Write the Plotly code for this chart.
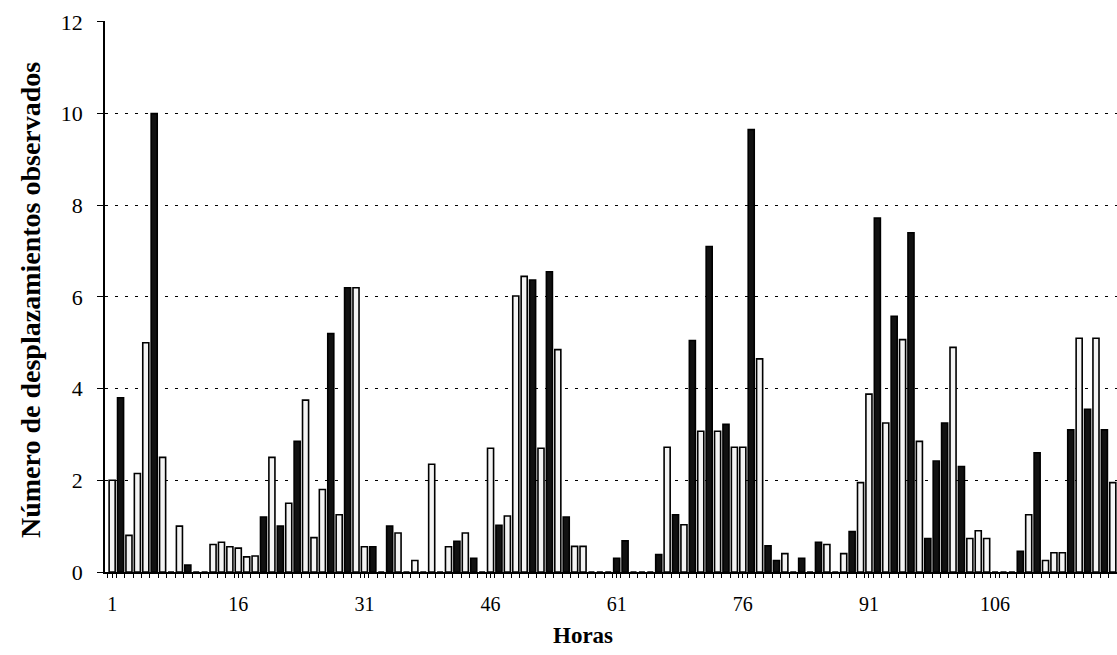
import plotly.graph_objects as go

hours = list(range(1, 121))
values = [
    2.0, 3.8, 0.8, 2.15, 5.0, 10.0, 2.5, 0, 1.0, 0.15,
    0, 0, 0.6, 0.65, 0.55, 0.52, 0.33, 0.35, 1.2, 2.5,
    1.0, 1.5, 2.85, 3.75, 0.75, 1.8, 5.2, 1.25, 6.2, 6.2,
    0.55, 0.55, 0, 1.0, 0.85, 0, 0.25, 0, 2.35, 0,
    0.55, 0.67, 0.85, 0.3, 0, 2.7, 1.02, 1.22, 6.02, 6.45,
    6.37, 2.7, 6.55, 4.85, 1.2, 0.56, 0.56, 0, 0, 0,
    0.3, 0.68, 0, 0, 0, 0.38, 2.72, 1.25, 1.03, 5.05,
    3.07, 7.1, 3.07, 3.22, 2.72, 2.72, 9.65, 4.65, 0.57, 0.25,
    0.4, 0, 0.3, 0, 0.65, 0.6, 0, 0.4, 0.88, 1.95,
    3.88, 7.72, 3.25, 5.58, 5.07, 7.4, 2.85, 0.73, 2.42, 3.25,
    4.9, 2.3, 0.73, 0.9, 0.73, 0, 0, 0, 0.45, 1.25,
    2.6, 0.25, 0.42, 0.42, 3.1, 5.1, 3.55, 5.1, 3.1, 1.95,
]
x_tick_vals = [1, 16, 31, 46, 61, 76, 91, 106]
x_tick_text = ["1", "16", "31", "46", "61", "76", "91", "106"]
y_tick_vals = [0, 2, 4, 6, 8, 10, 12]

# style only: hours whose bar appears dark in the scanned original
dark_hours = [2, 6, 10, 19, 21, 23, 27, 29, 32, 34, 42, 44, 47, 51, 53, 55,
              61, 62, 66, 68, 70, 72, 74, 77, 79, 80, 83, 85, 89, 92, 94, 96,
              98, 99, 100, 102, 109, 111, 115, 117, 119]
fill_colors = ["#111111" if h in dark_hours else "#f4f4f4" for h in hours]

SERIF = "Liberation Serif"

fig = go.Figure(
    go.Bar(
        x=hours,
        y=values,
        marker=dict(color=fill_colors, line=dict(color="#000000", width=1.6)),
        width=0.72,
        showlegend=False,
    )
)

fig.update_layout(
    width=1117,
    height=655,
    margin=dict(l=105, r=0, t=21, b=83),
    paper_bgcolor="white",
    plot_bgcolor="white",
    font=dict(family=SERIF, color="black"),
    xaxis=dict(
        range=[0.15, 120.5],
        tickmode="array",
        tickvals=x_tick_vals,
        ticktext=x_tick_text,
        ticks="outside",
        ticklen=4,
        tickcolor="black",
        tickfont=dict(family=SERIF, size=20, color="black"),
        ticklabelstandoff=9,
        showgrid=False,
        zeroline=False,
        showline=True,
        linecolor="black",
        linewidth=1.5,
        minor=dict(tick0=0.5, dtick=1, ticks="outside", ticklen=4, tickcolor="black", showgrid=False),
    ),
    yaxis=dict(
        range=[0, 12.02],
        tickmode="array",
        tickvals=y_tick_vals,
        ticks="outside",
        ticklen=6,
        tickcolor="black",
        tickfont=dict(family=SERIF, size=22, color="black"),
        ticklabelstandoff=10,
        showgrid=True,
        gridcolor="black",
        gridwidth=1,
        griddash="3px,7px",
        zeroline=False,
        showline=True,
        linecolor="black",
        linewidth=1.5,
    ),
    annotations=[
        dict(
            text="<b>Número de desplazamientos observados</b>",
            xref="paper", yref="paper",
            x=(30 - 105) / 1012, y=(572 - 300) / 551,
            xanchor="center", yanchor="middle",
            textangle=-90, showarrow=False,
            font=dict(family=SERIF, size=28, color="black"),
        ),
        dict(
            text="<b>Horas</b>",
            xref="paper", yref="paper",
            x=(583 - 105) / 1012, y=-(635 - 572) / 551,
            xanchor="center", yanchor="middle",
            showarrow=False,
            font=dict(family=SERIF, size=23, color="black"),
        ),
    ],
)

fig.write_html("out.html")
